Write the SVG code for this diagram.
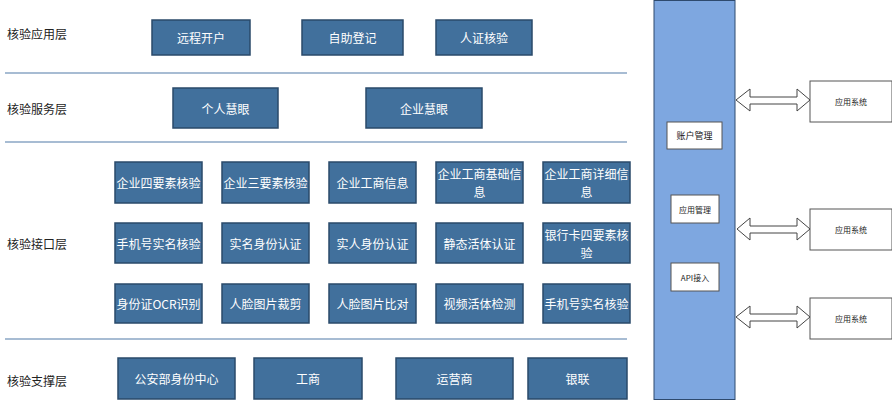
<svg xmlns="http://www.w3.org/2000/svg" width="892" height="401" viewBox="0 0 892 401">
<style>
.b{fill:#41709c;stroke:#2a4a6a;stroke-width:1.5}
.bt{fill:#fff;font-family:"Noto Sans CJK SC",sans-serif;font-size:12px;text-anchor:middle;dominant-baseline:central}
.lb{fill:#222;font-family:"Noto Sans CJK SC",sans-serif;font-size:12px;dominant-baseline:central}
.w{fill:#fff;stroke:#555;stroke-width:1}
.wt{fill:#222;font-family:"Noto Sans CJK SC",sans-serif;font-size:8px;text-anchor:middle;dominant-baseline:central}
.sep{stroke:#8aa6c4;stroke-width:1.5}
.ar{fill:#fff;stroke:#444;stroke-width:1}
</style>
<rect width="892" height="401" fill="#fff"/>
<g id="layers">
<text class="lb" x="7" y="33">核验应用层</text>
<text class="lb" x="7" y="108">核验服务层</text>
<text class="lb" x="7" y="243">核验接口层</text>
<text class="lb" x="7" y="380">核验支撑层</text>
<line class="sep" x1="5" y1="73" x2="627" y2="73"/>
<line class="sep" x1="5" y1="142" x2="627" y2="142"/>
<line class="sep" x1="5" y1="339" x2="627" y2="339"/>
</g>
<g id="app">
<rect class="b" x="152" y="20" width="98" height="35"/><text class="bt" x="201" y="37.5">远程开户</text>
<rect class="b" x="302" y="20" width="101" height="35"/><text class="bt" x="352.5" y="37.5">自助登记</text>
<rect class="b" x="436" y="20" width="96" height="35"/><text class="bt" x="484" y="37.5">人证核验</text>
</g>
<g id="service">
<rect class="b" x="173" y="88" width="105" height="40"/><text class="bt" x="225.5" y="108">个人慧眼</text>
<rect class="b" x="366" y="88" width="116" height="40"/><text class="bt" x="424" y="108">企业慧眼</text>
</g>
<g id="iface">
<rect class="b" x="115" y="162" width="87" height="41"/><text class="bt" x="158.5" y="182.5">企业四要素核验</text>
<rect class="b" x="222" y="162" width="87" height="41"/><text class="bt" x="265.5" y="182.5">企业三要素核验</text>
<rect class="b" x="329" y="162" width="87" height="41"/><text class="bt" x="372.5" y="182.5">企业工商信息</text>
<rect class="b" x="436" y="162" width="87" height="41"/><text class="bt" x="479.5" y="173.5">企业工商基础信</text><text class="bt" x="479.5" y="191.5">息</text>
<rect class="b" x="543" y="162" width="87" height="41"/><text class="bt" x="586.5" y="173.5">企业工商详细信</text><text class="bt" x="586.5" y="191.5">息</text>
<rect class="b" x="115" y="223" width="87" height="40"/><text class="bt" x="158.5" y="243">手机号实名核验</text>
<rect class="b" x="222" y="223" width="87" height="40"/><text class="bt" x="265.5" y="243">实名身份认证</text>
<rect class="b" x="329" y="223" width="87" height="40"/><text class="bt" x="372.5" y="243">实人身份认证</text>
<rect class="b" x="436" y="223" width="87" height="40"/><text class="bt" x="479.5" y="243">静态活体认证</text>
<rect class="b" x="543" y="223" width="87" height="40"/><text class="bt" x="586.5" y="234">银行卡四要素核</text><text class="bt" x="586.5" y="252">验</text>
<rect class="b" x="115" y="284" width="87" height="39"/><text class="bt" x="158.5" y="303.5">身份证OCR识别</text>
<rect class="b" x="222" y="284" width="87" height="39"/><text class="bt" x="265.5" y="303.5">人脸图片裁剪</text>
<rect class="b" x="329" y="284" width="87" height="39"/><text class="bt" x="372.5" y="303.5">人脸图片比对</text>
<rect class="b" x="436" y="284" width="87" height="39"/><text class="bt" x="479.5" y="303.5">视频活体检测</text>
<rect class="b" x="543" y="284" width="87" height="39"/><text class="bt" x="586.5" y="303.5">手机号实名核验</text>
</g>
<g id="support">
<rect class="b" x="118" y="358" width="117" height="41"/><text class="bt" x="176.5" y="378.5">公安部身份中心</text>
<rect class="b" x="254" y="358" width="108" height="41"/><text class="bt" x="308" y="378.5">工商</text>
<rect class="b" x="396" y="358" width="117" height="41"/><text class="bt" x="454.5" y="378.5">运营商</text>
<rect class="b" x="528" y="358" width="99" height="41"/><text class="bt" x="577.5" y="378.5">银联</text>
</g>
<g id="platform">
<rect x="654" y="0.5" width="81" height="399" fill="#7ea7e0" stroke="#2e4a6e" stroke-width="1"/>
<rect class="w" x="667" y="122" width="55" height="27"/><text class="wt" x="694.5" y="135.5" style="font-size:9px">账户管理</text>
<rect class="w" x="671" y="195" width="48" height="28"/><text class="wt" x="695" y="209">应用管理</text>
<rect class="w" x="671" y="263" width="48" height="28"/><text class="wt" x="695" y="277">API接入</text>
</g>
<g id="systems">
<rect class="w" x="810" y="81" width="82" height="41"/><text class="wt" x="851" y="101.5">应用系统</text>
<rect class="w" x="810" y="209" width="82" height="41"/><text class="wt" x="851" y="229.5">应用系统</text>
<rect class="w" x="810" y="298" width="82" height="41"/><text class="wt" x="851" y="318.5">应用系统</text>
</g>
<g id="connectors">
<path class="ar" d="M736,100 L750,89 L750,97 L797,97 L797,89 L810,100 L797,111 L797,104 L750,104 L750,111 Z"/>
<path class="ar" d="M737,229 L750,218 L750,226 L797,226 L797,218 L810,229 L797,240 L797,233 L750,233 L750,240 Z"/>
<path class="ar" d="M736,317 L750,306 L750,314 L797,314 L797,306 L810,317 L797,328 L797,321 L750,321 L750,328 Z"/>
</g>
</svg>
